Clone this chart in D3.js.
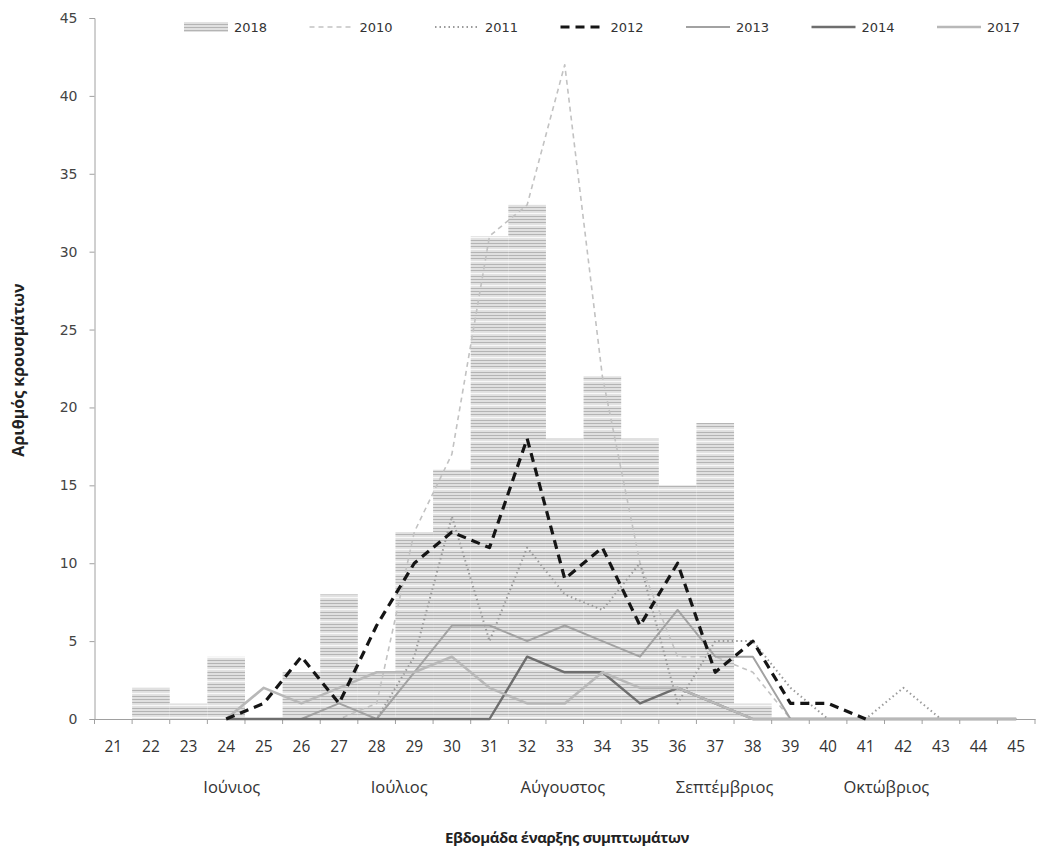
<!DOCTYPE html>
<html>
<head>
<meta charset="utf-8">
<script src="https://cdn.jsdelivr.net/npm/d3@7/dist/d3.min.js"></script>
<style>
  html, body { margin: 0; padding: 0; background: #fff; }
  svg { display: block; }
</style>
</head>
<body>
<svg id="chart" width="1039" height="850"></svg>
<script>
// ---------------- data ----------------
const weeks = [21,22,23,24,25,26,27,28,29,30,31,32,33,34,35,36,37,38,39,40,41,42,43,44,45];
const cases2018 = [0,2,1,4,0,3,8,3,12,16,31,33,18,22,18,15,19,1,0,0,0,0,0,0,0];
const cases2010 = [null,null,null,0,0,0,0,1,12,17,31,33,42,22,10,4,4,3,0,0,0,0,0,0,0];
const cases2011 = [null,null,null,0,0,0,0,0,4,13,5,11,8,7,10,1,5,5,2,0,0,2,0,0,0];
const cases2012 = [null,null,null,0,1,4,1,6,10,12,11,18,9,11,6,10,3,5,1,1,0,null,null,null,null];
const cases2013 = [null,null,null,0,0,0,1,0,3,6,6,5,6,5,4,7,4,4,0,0,0,0,0,0,0];
const cases2014 = [null,null,null,0,0,0,0,0,0,0,0,4,3,3,1,2,1,0,0,0,0,0,0,0,0];
const cases2017 = [null,null,null,0,2,1,2,3,3,4,2,1,1,3,2,2,1,0,0,0,0,0,0,0,0];
const yTicks = [0,5,10,15,20,25,30,35,40,45];
const monthLabels = ["Ιούνιος","Ιούλιος","Αύγουστος","Σεπτέμβριος","Οκτώβριος"];
const monthCenterWeek = [24.15, 28.6, 32.95, 37.25, 41.55];
const legendLabels = ["2018","2010","2011","2012","2013","2014","2017"];
const xTitle = "Εβδομάδα έναρξης συμπτωμάτων";
const yTitle = "Αριθμός κρουσμάτων";

// ---------------- layout ----------------
const svg = d3.select("#chart");
const L = 94.5, R = 1035, T = 18, B = 719;

const x = d3.scaleBand().domain(weeks).range([L, R]).padding(0);
const y = d3.scaleLinear().domain([0, 45]).range([B, T]);
const xc = w => L + (w - weeks[0] + 0.5) * x.bandwidth();

// pattern for 2018 bars
const defs = svg.append("defs");
const pat = defs.append("pattern").attr("id", "hatch")
  .attr("patternUnits", "userSpaceOnUse").attr("width", 8).attr("height", 12);
pat.append("rect").attr("width", 8).attr("height", 12).attr("fill", "#e0e0e0");
[0.5, 3.5, 6.5].forEach(v => pat.append("line").attr("x1", 0).attr("x2", 8)
  .attr("y1", v).attr("y2", v).attr("stroke", "#b4b4b4").attr("stroke-width", 1));
pat.append("line").attr("x1", 0).attr("x2", 8).attr("y1", 9.5).attr("y2", 9.5)
  .attr("stroke", "#f8f8f8").attr("stroke-width", 1.2);

// bars
svg.append("g").selectAll("rect")
  .data(weeks.map((w, i) => ({ w, v: cases2018[i] })).filter(d => d.v > 0))
  .join("rect")
  .attr("x", d => x(d.w))
  .attr("y", d => y(d.v))
  .attr("width", x.bandwidth())
  .attr("height", d => y(0) - y(d.v))
  .attr("fill", "url(#hatch)");

// axes
const yAxis = svg.append("g").attr("transform", `translate(${L},0)`)
  .call(d3.axisLeft(y).tickValues(yTicks).tickSize(5).tickPadding(12));
yAxis.select(".domain").attr("stroke", "#a0a0a0");
yAxis.selectAll(".tick line").attr("stroke", "#a0a0a0");
yAxis.selectAll("text").attr("font-family", "DejaVu Sans, Verdana, sans-serif")
  .attr("font-size", 14).attr("fill", "#444");

const xAxis = svg.append("g").attr("transform", `translate(0,${B})`)
  .call(d3.axisBottom(x).tickSize(0).tickPadding(22));
xAxis.select(".domain").attr("stroke", "#a0a0a0");
xAxis.selectAll("text").attr("font-family", "Open Sans, sans-serif")
  .attr("font-size", 15.5).attr("fill", "#333");
// tick marks between categories
svg.append("g").selectAll("line")
  .data(weeks.concat([null]))
  .join("line")
  .attr("x1", d => d === null ? x.range()[1] : x(d))
  .attr("x2", d => d === null ? x.range()[1] : x(d))
  .attr("y1", B).attr("y2", B + 5)
  .attr("stroke", "#a0a0a0");

// lines
const series = [
  { name: "2010", data: cases2010, stroke: "#c2c2c2", width: 1.6, dash: "5,4" },
  { name: "2011", data: cases2011, stroke: "#9a9a9a", width: 2, dash: "1.5,3" },
  { name: "2013", data: cases2013, stroke: "#a2a2a2", width: 2, dash: null },
  { name: "2014", data: cases2014, stroke: "#6e6e6e", width: 2.4, dash: null },
  { name: "2017", data: cases2017, stroke: "#b8b8b8", width: 2.6, dash: null },
  { name: "2012", data: cases2012, stroke: "#151515", width: 3.2, dash: "9,6" }
];
const line = d3.line()
  .defined(d => d.v !== null)
  .x(d => xc(d.w))
  .y(d => y(d.v));
svg.append("g").selectAll("path")
  .data(series)
  .join("path")
  .attr("d", s => line(weeks.map((w, i) => ({ w, v: s.data[i] }))))
  .attr("fill", "none")
  .attr("stroke", s => s.stroke)
  .attr("stroke-width", s => s.width)
  .attr("stroke-dasharray", s => s.dash)
  .attr("stroke-linejoin", "round");

// month labels
svg.append("g").selectAll("text")
  .data(monthLabels)
  .join("text")
  .attr("x", (d, i) => xc(monthCenterWeek[i]))
  .attr("y", 793)
  .attr("text-anchor", "middle")
  .attr("font-family", "Open Sans, sans-serif")
  .attr("font-size", 16.5)
  .attr("fill", "#333")
  .text(d => d);

// axis titles
svg.append("text")
  .attr("x", 567).attr("y", 843)
  .attr("text-anchor", "middle")
  .attr("font-family", "Open Sans, sans-serif")
  .attr("font-weight", "bold")
  .attr("font-size", 15)
  .attr("letter-spacing", "-0.4")
  .attr("fill", "#222")
  .text(xTitle);
svg.append("text")
  .attr("transform", "translate(24,370) rotate(-90)")
  .attr("text-anchor", "middle")
  .attr("font-family", "Open Sans, sans-serif")
  .attr("font-weight", "bold")
  .attr("font-size", 16)
  .attr("fill", "#222")
  .text(yTitle);

// legend
const legendStyle = {
  "2018": { type: "bar" },
  "2010": { stroke: "#c2c2c2", width: 1.6, dash: "5,4" },
  "2011": { stroke: "#9a9a9a", width: 2, dash: "1.5,3" },
  "2012": { stroke: "#151515", width: 3.2, dash: "9,6" },
  "2013": { stroke: "#a2a2a2", width: 2, dash: null },
  "2014": { stroke: "#6e6e6e", width: 2.4, dash: null },
  "2017": { stroke: "#b8b8b8", width: 2.6, dash: null }
};
const lg = svg.append("g").selectAll("g")
  .data(legendLabels)
  .join("g")
  .attr("transform", (d, i) => `translate(${184 + i * 125.5},0)`);
lg.each(function(d) {
  const g = d3.select(this), st = legendStyle[d];
  if (st.type === "bar") {
    g.append("rect").attr("x", 0).attr("y", 22).attr("width", 44).attr("height", 10)
      .attr("fill", "url(#hatch)");
  } else {
    g.append("line").attr("x1", 0).attr("x2", 44).attr("y1", 27).attr("y2", 27)
      .attr("stroke", st.stroke).attr("stroke-width", st.width)
      .attr("stroke-dasharray", st.dash);
  }
  g.append("text").attr("x", 50).attr("y", 32)
    .attr("font-family", "DejaVu Sans, Verdana, sans-serif")
    .attr("font-size", 13).attr("fill", "#333").text(d);
});
</script>
</body>
</html>
